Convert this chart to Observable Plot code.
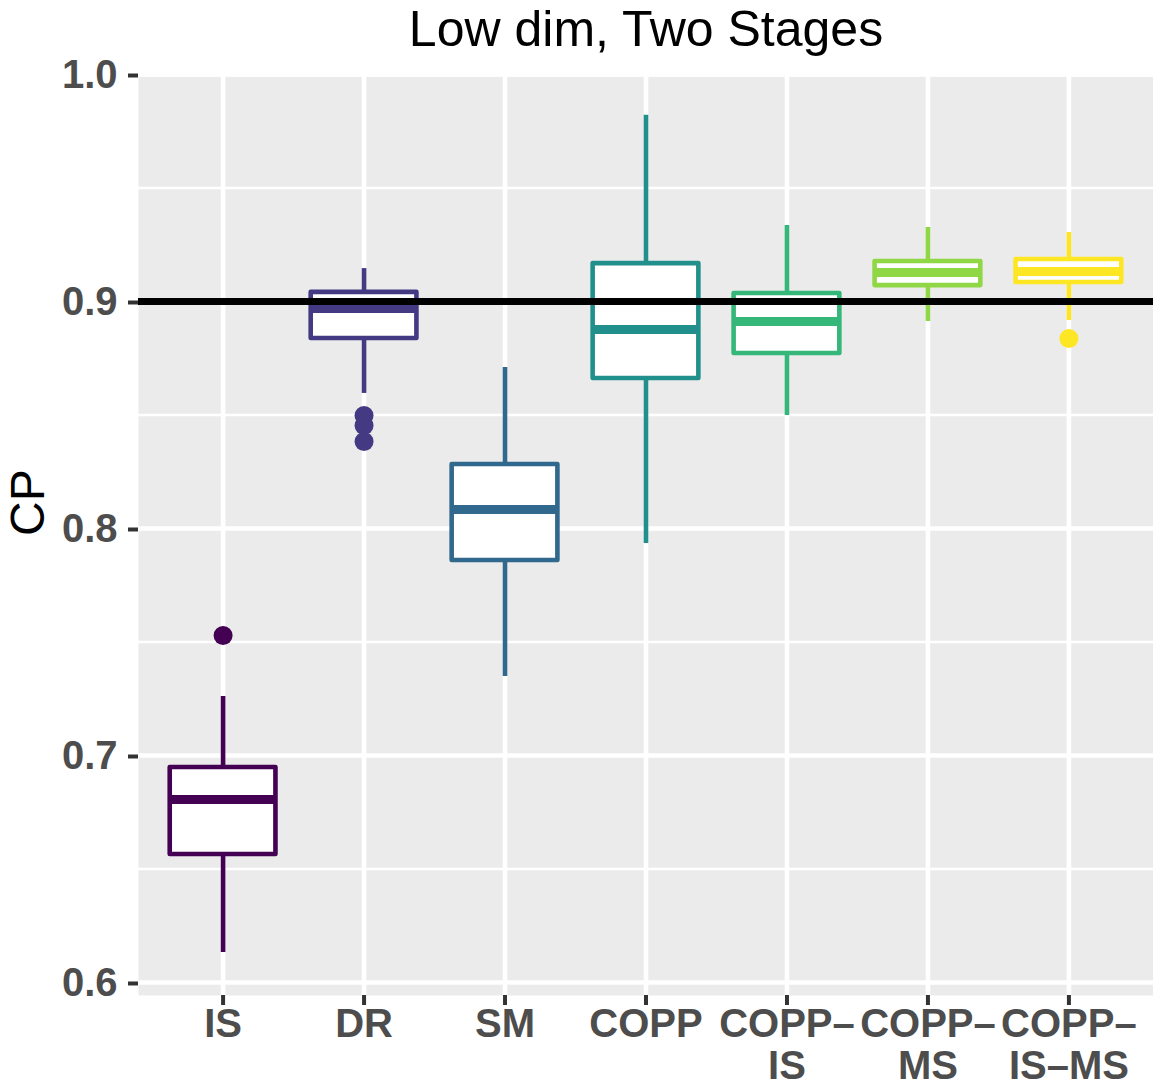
<!DOCTYPE html>
<html>
<head>
<meta charset="utf-8">
<script src="https://cdn.jsdelivr.net/npm/d3@7"></script>
<script src="https://cdn.jsdelivr.net/npm/@observablehq/plot@0.6"></script>
<style>
  html, body { margin: 0; padding: 0; background: #fff; }
  #chart svg { display: block; font-family: "Liberation Sans", Arial, Helvetica, sans-serif; }
</style>
</head>
<body>
<div id="chart"></div>
<script>
const title = "Low dim, Two Stages";
const yLabel = "CP";
const categories = ["IS", "DR", "SM", "COPP", "COPP-IS", "COPP-MS", "COPP-IS-MS"];
const tickLabels = ["IS", "DR", "SM", "COPP", "COPP\u2013\nIS", "COPP\u2013\nMS", "COPP\u2013\nIS\u2013MS"];
const colors = ["#440154", "#443A83", "#31688E", "#21908C", "#35B779", "#8FD744", "#FDE725"];
const whiskerLow  = [0.6132, 0.8595, 0.7348, 0.7934, 0.8498, 0.8912, 0.8916];
const q1          = [0.6564, 0.8837, 0.7859, 0.8661, 0.8771, 0.9070, 0.9084];
const median      = [0.6806, 0.8969, 0.8084, 0.8877, 0.8912, 0.9128, 0.9132];
const q3          = [0.6947, 0.9040, 0.8282, 0.9167, 0.9035, 0.9176, 0.9185];
const whiskerHigh = [0.7260, 0.9145, 0.8709, 0.9820, 0.9335, 0.9326, 0.9304];
const outlierCategory = ["IS", "DR", "DR", "DR", "COPP-IS-MS"];
const outlierValue    = [0.7529, 0.8498, 0.8454, 0.8383, 0.8837];
const yTicks = [0.6, 0.7, 0.8, 0.9, 1.0];
const yMinor = [0.65, 0.75, 0.85, 0.95];
const target = [0.9];

const boxes = categories.map((c, i) => ({
  cat: c, lo: whiskerLow[i], q1: q1[i], med: median[i], q3: q3[i], hi: whiskerHigh[i]
}));
const outliers = outlierCategory.map((c, i) => ({cat: c, v: outlierValue[i]}));
const labelOf = new Map(categories.map((c, i) => [c, tickLabels[i]]));

const font = "Liberation Sans, Arial, Helvetica, sans-serif";

const chart = Plot.plot({
  width: 1153,
  height: 1091,
  marginTop: 76,
  marginBottom: 96,
  marginLeft: 138,
  marginRight: 0,
  style: {fontFamily: font, background: "#fff"},
  x: {type: "band", domain: categories, paddingInner: 0.25, paddingOuter: 0.225, round: false, axis: null},
  y: {domain: [0.59427, 0.99912], axis: null},
  color: {type: "ordinal", domain: categories, range: colors},
  marks: [
    Plot.frame({fill: "#EBEBEB", stroke: null}),
    Plot.ruleY(yMinor, {stroke: "#fff", strokeWidth: 2.3}),
    Plot.ruleY(yTicks, {stroke: "#fff", strokeWidth: 4.6}),
    Plot.ruleX(categories, {x: d => d, stroke: "#fff", strokeWidth: 4.6}),
    Plot.ruleX(boxes, {x: "cat", y1: "lo", y2: "hi", stroke: "cat", strokeWidth: 4.6}),
    Plot.barY(boxes, {x: "cat", y1: "q1", y2: "q3", fill: "#fff", stroke: "cat", strokeWidth: 4.6, strokeLinejoin: "round"}),
    Plot.tickY(boxes, {x: "cat", y: "med", stroke: "cat", strokeWidth: 9}),
    Plot.dot(outliers, {x: "cat", y: "v", r: 9.5, fill: "cat", stroke: null}),
    Plot.ruleY(target, {stroke: "#000", strokeWidth: 7}),
    Plot.axisY({
      ticks: yTicks, tickFormat: d3.format(".1f"), tickSize: 10, tickPadding: 11,
      stroke: "#333333", strokeWidth: 4, fill: "#4D4D4D",
      fontSize: 40, fontWeight: "bold", label: null, dy: 1
    }),
    Plot.axisX({
      tickFormat: d => labelOf.get(d), tickSize: 10, tickPadding: 2,
      stroke: "#333333", strokeWidth: 4, fill: "#4D4D4D",
      fontSize: 40, fontWeight: "bold", lineHeight: 1.05, label: null
    }),
    Plot.text([title], {frameAnchor: "top", dy: -46.5, text: d => d, fontSize: 50, fill: "#000", lineAnchor: "middle"}),
    Plot.text([yLabel], {frameAnchor: "left", dx: -110, rotate: -90, text: d => d, fontSize: 48, fill: "#000"})
  ]
});
document.getElementById("chart").appendChild(chart);
</script>
</body>
</html>
